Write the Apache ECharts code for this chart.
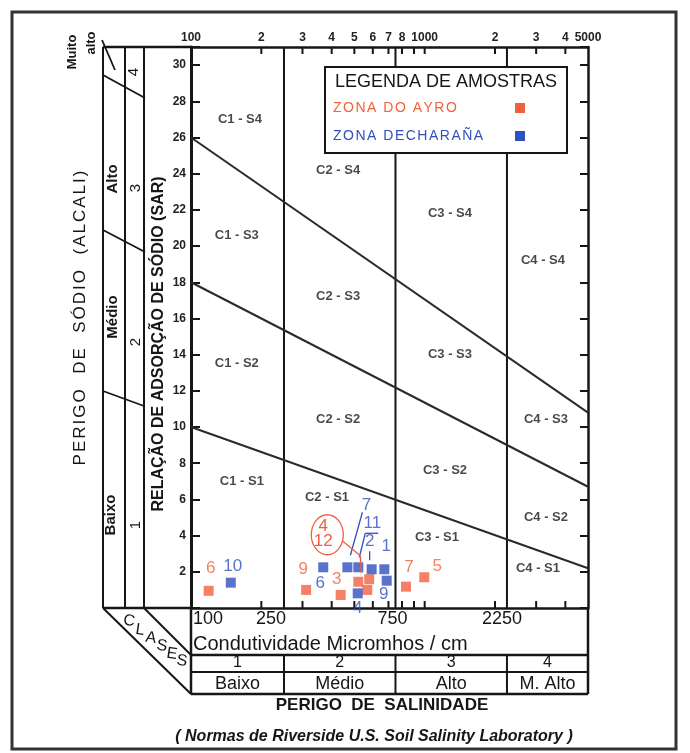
<!DOCTYPE html>
<html>
<head>
<meta charset="utf-8">
<script src="https://cdn.jsdelivr.net/npm/echarts@6/dist/echarts.min.js"></script>
<style>
html,body{margin:0;padding:0;background:#fff;}
#chart{width:690px;height:753px;}
</style>
</head>
<body>
<div id="chart"></div>
<script>
// ---- Diagram ranges -------------------------------------------------------
const EC_MIN = 100, EC_MAX = 5000;      // electrical conductivity, micromhos/cm
const SAR_MIN = 0, SAR_MAX = 31;        // sodium adsorption ratio

// Salinity class limits (C1 | C2 | C3 | C4)
const salinityLimits = [250, 750, 2250];
const salinityClassNums = ['1', '2', '3', '4'];
const salinityClassNames = ['Baixo', 'Médio', 'Alto', 'M. Alto'];
const conductivityLabels = ['100', '250', '750', '2250'];

// Sodium class boundaries: SAR at EC = 100 and at EC = 5000
const boundaryEC = [100, 5000];
const boundaryS1S2 = [10, 2.2];
const boundaryS2S3 = [18, 6.7];
const boundaryS3S4 = [26, 10.8];

// Log-paper ticks along the top and bottom edges
const ecMinorTicks = [200, 300, 400, 500, 600, 700, 800, 900, 1000, 2000, 3000, 4000];
const ecTopValues = [100, 200, 300, 400, 500, 600, 700, 800, 1000, 2000, 3000, 4000, 5000];
const ecTopLabels = ['100', '2', '3', '4', '5', '6', '7', '8', '1000', '2', '3', '4', '5000'];

// Classification zone captions
const zoneNames = ['C1 - S4', 'C2 - S4', 'C3 - S4', 'C4 - S4',
                   'C1 - S3', 'C2 - S3', 'C3 - S3', 'C4 - S3',
                   'C1 - S2', 'C2 - S2', 'C3 - S2', 'C4 - S2',
                   'C1 - S1', 'C2 - S1', 'C3 - S1', 'C4 - S1'];
const zoneEC = [162, 426, 1283, 3208,
                157, 426, 1283, 3304,
                157, 426, 1222, 3304,
                165, 382, 1129, 3054];
const zoneSAR = [27.0, 24.2, 21.8, 19.2,
                 20.6, 17.2, 14.0, 10.4,
                 13.5, 10.4, 7.6, 5.0,
                 7.0, 6.1, 3.9, 2.2];

// Water samples
const AYRO_NAME = 'ZONA DO AYRO';
const ayroIds = ['6', '9', '3', '4', '12', '', '7', '5'];
const ayroEC  = [119, 311, 437, 520, 579, 568, 832, 996];
const ayroSAR = [0.95, 1.0, 0.72, 1.45, 1.59, 1.0, 1.18, 1.7];

const CHAR_NAME = 'ZONA DECHARAÑA';
const charanaIds = ['10', '6', '7', '11', '2', '1', '9', '4'];
const charanaEC  = [148, 368, 467, 520, 593, 672, 688, 517];
const charanaSAR = [1.4, 2.25, 2.25, 2.25, 2.14, 2.14, 1.51, 0.81];

// ---- Styling --------------------------------------------------------------
const FONT = '"Liberation Sans", Arial, sans-serif';
const C_AYRO = '#f2603e';
const C_CHAR = '#2f50bf';
const INK = '#161616';

// Label placement for each sample number (pixels from the square's centre)
const ayroLabelShift = [[2, -22], [-3, -21], [-4, -16], null, null, null, [3, -19], [13, -11]];
const charanaLabelShift = [[2, -16], [-3, 16], [19, -62], [14, -44], [-2, -28], [2, -23], [-3, 14], [0, 15]];

function sampleData(ids, ec, sar, shift) {
  return ec.map((v, i) => ({
    name: ids[i],
    value: [v, sar[i]],
    label: shift[i] ? { show: true, offset: shift[i] } : { show: false }
  }));
}

function boundarySeries(sarPair) {
  return {
    type: 'line', silent: true, symbol: 'none', z: 3,
    data: boundaryEC.map((v, i) => [v, sarPair[i]]),
    lineStyle: { color: '#2a2a2a', width: 2 }
  };
}

function limitSeries(ec) {
  return {
    type: 'line', silent: true, symbol: 'none', z: 3,
    data: [[ec, SAR_MIN], [ec, SAR_MAX]],
    lineStyle: { color: INK, width: 2 }
  };
}

const chart = echarts.init(document.getElementById('chart'), null, { renderer: 'canvas' });

const xAxisBase = {
  type: 'log', logBase: 10, min: EC_MIN, max: EC_MAX,
  axisLine: { show: true, onZero: false, lineStyle: { color: INK, width: 2.5 } },
  axisTick: { show: false }, axisLabel: { show: false },
  splitLine: { show: false }, minorTick: { show: false }
};

const option = {
  animation: false,
  backgroundColor: '#ffffff',
  grid: { left: 191, top: 47, width: 397, height: 561 },
  xAxis: [
    Object.assign({ position: 'bottom' }, xAxisBase),
    Object.assign({ position: 'top' }, xAxisBase)
  ],
  yAxis: [
    {
      type: 'value', min: SAR_MIN, max: SAR_MAX, interval: 2, position: 'left',
      axisLine: { show: true, lineStyle: { color: INK, width: 3 } },
      axisTick: { show: true, inside: true, length: 9, lineStyle: { color: INK, width: 2 } },
      axisLabel: {
        margin: 5, fontSize: 12, fontWeight: 'bold', color: '#222', fontFamily: FONT,
        formatter: v => (v > 0 && v <= 30 && v % 2 === 0) ? String(v) : ''
      },
      splitLine: { show: false }
    },
    {
      type: 'value', min: SAR_MIN, max: SAR_MAX, interval: 2, position: 'right',
      axisLine: { show: true, lineStyle: { color: INK, width: 2.5 } },
      axisTick: { show: true, inside: true, length: 8, lineStyle: { color: INK, width: 2 } },
      axisLabel: { show: false },
      splitLine: { show: false }
    }
  ],
  series: [
    limitSeries(salinityLimits[0]),
    limitSeries(salinityLimits[1]),
    limitSeries(salinityLimits[2]),
    boundarySeries(boundaryS1S2),
    boundarySeries(boundaryS2S3),
    boundarySeries(boundaryS3S4),
    {
      // minor log ticks on the top and bottom edges
      type: 'custom', silent: true, clip: false, z: 4,
      data: ecMinorTicks.map(v => [v, SAR_MAX]),
      renderItem(params, api) {
        const v = api.value(0);
        const t = api.coord([v, SAR_MAX]);
        const b = api.coord([v, SAR_MIN]);
        return {
          type: 'group', children: [
            { type: 'line', shape: { x1: t[0], y1: t[1], x2: t[0], y2: t[1] + 7 }, style: { stroke: INK, lineWidth: 2 } },
            { type: 'line', shape: { x1: b[0], y1: b[1], x2: b[0], y2: b[1] - 7 }, style: { stroke: INK, lineWidth: 2 } }
          ]
        };
      }
    },
    {
      // conductivity labels above the top edge
      type: 'custom', silent: true, clip: false, z: 4,
      data: ecTopValues.map(v => [v, SAR_MAX]),
      renderItem(params, api) {
        const p = api.coord([api.value(0), SAR_MAX]);
        return {
          type: 'text', x: p[0], y: p[1] - 9,
          style: { text: ecTopLabels[params.dataIndex], align: 'center', verticalAlign: 'middle',
                   font: 'bold 12px ' + FONT, fill: '#222' }
        };
      }
    },
    {
      // zone captions
      type: 'scatter', silent: true, symbolSize: 1, z: 4,
      itemStyle: { color: 'rgba(0,0,0,0)' },
      data: zoneNames.map((n, i) => ({ name: n, value: [zoneEC[i], zoneSAR[i]] })),
      label: { show: true, position: 'inside', formatter: '{b}', color: '#1a1a1a',
               fontFamily: FONT, fontSize: 13, fontWeight: 'bold' }
    },
    {
      name: AYRO_NAME, type: 'scatter', symbol: 'rect', symbolSize: 10, z: 5,
      itemStyle: { color: C_AYRO },
      data: sampleData(ayroIds, ayroEC, ayroSAR, ayroLabelShift),
      label: { position: 'inside', formatter: '{b}', color: C_AYRO, fontFamily: FONT, fontSize: 17 }
    },
    {
      name: CHAR_NAME, type: 'scatter', symbol: 'rect', symbolSize: 10, z: 6,
      itemStyle: { color: C_CHAR },
      data: sampleData(charanaIds, charanaEC, charanaSAR, charanaLabelShift),
      label: { position: 'inside', formatter: '{b}', color: C_CHAR, fontFamily: FONT, fontSize: 17 }
    }
  ]
};

chart.setOption(option);

// ---- Frame, side panels, salinity table, legend -----------------------------
const px = v => chart.convertToPixel({ xAxisIndex: 0 }, v);
const py = v => chart.convertToPixel({ yAxisIndex: 0 }, v);
const xL = px(EC_MIN), xR = px(EC_MAX), yT = py(SAR_MAX), yB = py(SAR_MIN);

const g = [];
function line(x1, y1, x2, y2, w, c) {
  g.push({ type: 'line', silent: true, z: 50, shape: { x1, y1, x2, y2 },
           style: { stroke: c || INK, lineWidth: w || 2 } });
}
function text(x, y, s, font, fill, rot, align) {
  g.push({ type: 'text', silent: true, z: 60, x, y, rotation: rot || 0,
           style: { text: s, font, fill: fill || INK, align: align || 'center', verticalAlign: 'middle' } });
}
const measureCtx = document.createElement('canvas').getContext('2d');
function charWidths(s, font) {
  measureCtx.font = font;
  return Array.from(s).map(ch => measureCtx.measureText(ch).width);
}
// letter-spaced text running bottom-to-top, centred on (cx, cy)
function spacedVertical(cx, cy, s, font, gap) {
  const w = charWidths(s, font);
  const total = w.reduce((a, b) => a + b, 0) + gap * (w.length - 1);
  let off = 0;
  Array.from(s).forEach((ch, i) => {
    if (ch !== ' ') text(cx, cy + total / 2 - off - w[i] / 2, ch, font, INK, Math.PI / 2);
    off += w[i] + gap;
  });
}
// letter-spaced horizontal text starting at x
function spacedHorizontal(x, y, s, font, gap, fill) {
  const w = charWidths(s, font);
  let off = 0;
  Array.from(s).forEach((ch, i) => {
    if (ch !== ' ') text(x + off, y, ch, font, fill, 0, 'left');
    off += w[i] + gap;
  });
}
const ROT = Math.PI / 2;

// outer frame
g.push({ type: 'rect', silent: true, z: 40, shape: { x: 12, y: 12, width: 664, height: 737 },
         style: { fill: 'none', stroke: '#333', lineWidth: 3 } });

// sodium hazard columns left of the SAR axis
const c1 = xL - 88, c2 = xL - 66, c3 = xL - 47;
line(c1, yT, xL, yT, 2.5);
line(c1, yB, xL, yB, 2.5);
[c1, c2, c3].forEach(x => line(x, yT, x, yB, 2));
line(c1 - 1, yT - 7, c1 + 12, yT + 23, 1.8);
line(c1, yT + 28, c3 + 1, yT + 51, 1.8);
line(c1, yT + 183, c3 + 1, yT + 205, 1.8);
line(c1, yT + 344, c3, yT + 359, 1.8);

text(72, 52, 'Muito', 'bold 13px ' + FONT, INK, ROT);
text(91, 43, 'alto', 'bold 13px ' + FONT, INK, ROT);
text(113, 179, 'Alto', 'bold 15px ' + FONT, INK, ROT);
text(113, 317, 'Médio', 'bold 15px ' + FONT, INK, ROT);
text(111, 515, 'Baixo', 'bold 15px ' + FONT, INK, ROT);
text(134, 72, '4', '15px ' + FONT, INK, ROT);
text(136, 188, '3', '15px ' + FONT, INK, ROT);
text(136, 342, '2', '15px ' + FONT, INK, ROT);
text(136, 525, '1', '15px ' + FONT, INK, ROT);
text(159, 344, 'RELAÇÃO DE ADSORÇÃO DE SÓDIO (SAR)', 'bold 16px ' + FONT, INK, ROT);
spacedVertical(80, 318, 'PERIGO  DE  SÓDIO  (ALCALI)', '17px ' + FONT, 2);

// salinity table below the plot
const r1 = yB + 47, r2 = yB + 64, r3 = yB + 86;
line(xL, yB, xL, r3, 2.5);
line(xR, yB, xR, r3, 2.5);
line(xL, r1, xR, r1, 2.5);
line(xL, r2, xR, r2, 2);
line(xL, r3, xR, r3, 2.5);
salinityLimits.forEach(v => line(px(v), r1, px(v), r3, 2));
line(c1, yB, xL, r3, 2);
line(c3, yB, xL, r1, 2);

const labelShift = [[2, 'left'], [-13, 'center'], [-3, 'center'], [-5, 'center']];
[EC_MIN].concat(salinityLimits).forEach((v, i) =>
  text(px(v) + labelShift[i][0], yB + 11, conductivityLabels[i], '18px ' + FONT, INK, 0, labelShift[i][1]));
text(xL + 2, yB + 36, 'Condutividade Micromhos / cm', '20px ' + FONT, INK, 0, 'left');

const cellEdges = [EC_MIN].concat(salinityLimits, [EC_MAX]).map(px);
for (let i = 0; i < 4; i++) {
  const cx = (cellEdges[i] + cellEdges[i + 1]) / 2;
  text(cx, yB + 55, salinityClassNums[i], '16px ' + FONT, INK);
  text(cx, yB + 76, salinityClassNames[i], '18px ' + FONT, INK);
}
// "CLASES" stepping down the diagonal band
const clases = ['C', 'L', 'A', 'S', 'E', 'S'];
const clasesPos = [[129, 13], [140, 22], [151, 30], [162, 38], [172, 46], [182, 53]];
clases.forEach((ch, i) => text(clasesPos[i][0], yB + clasesPos[i][1], ch, '16px ' + FONT, INK, -0.15));

text(382, yB + 97, 'PERIGO  DE  SALINIDADE', 'bold 17px ' + FONT, INK);
text(374, yB + 129, '( Normas de Riverside U.S. Soil Salinity Laboratory )', 'italic bold 16px ' + FONT, INK);

// legend box: heading, zone names and their sample colours
g.push({ type: 'rect', silent: true, z: 30, shape: { x: 325, y: 67, width: 242, height: 86 },
         style: { fill: '#fff', stroke: INK, lineWidth: 2 } });
text(335, 82, 'LEGENDA DE AMOSTRAS', '18px ' + FONT, INK, 0, 'left');
[[AYRO_NAME, C_AYRO, 108], [CHAR_NAME, C_CHAR, 136]].forEach(([name, color, y]) => {
  spacedHorizontal(333, y, name, '14px ' + FONT, 1.5, color);
  g.push({ type: 'rect', silent: true, z: 60, shape: { x: 515, y: y - 5, width: 10, height: 10 },
           style: { fill: color } });
});

// leader lines for the crowded samples
const pc = i => chart.convertToPixel({ seriesIndex: 9 }, [charanaEC[i], charanaSAR[i]]);
const pa = i => chart.convertToPixel({ seriesIndex: 8 }, [ayroEC[i], ayroSAR[i]]);
let p = pc(2);
line(p[0] + 15, p[1] - 55, p[0] + 3, p[1] - 12, 1.3, C_CHAR);
p = pc(3);
line(p[0] + 7, p[1] - 34, p[0] + 20, p[1] - 34, 1.3, C_CHAR);
line(p[0] + 7, p[1] - 34, p[0] + 1, p[1] - 10, 1.3, C_CHAR);
p = pc(4);
line(p[0] - 2, p[1] - 18, p[0] - 2, p[1] - 9, 1.3, C_CHAR);

// circled sample numbers 4 and 12 (Ayro)
p = pa(3);
const ex = p[0] - 31, ey = p[1] - 47;
g.push({ type: 'ellipse', silent: true, z: 60, shape: { cx: ex, cy: ey, rx: 16, ry: 20 },
         style: { fill: 'none', stroke: C_AYRO, lineWidth: 1.3 } });
text(ex - 4, ey - 8, ayroIds[3], '17px ' + FONT, C_AYRO);
text(ex - 4, ey + 7, ayroIds[4], '17px ' + FONT, C_AYRO);
line(ex + 15, ey + 6, p[0] + 2, p[1] - 26, 1.3, C_AYRO);
line(p[0] + 2, p[1] - 26, p[0] + 3, p[1] - 9, 1.5, C_AYRO);

chart.setOption({ graphic: g });
</script>
</body>
</html>
